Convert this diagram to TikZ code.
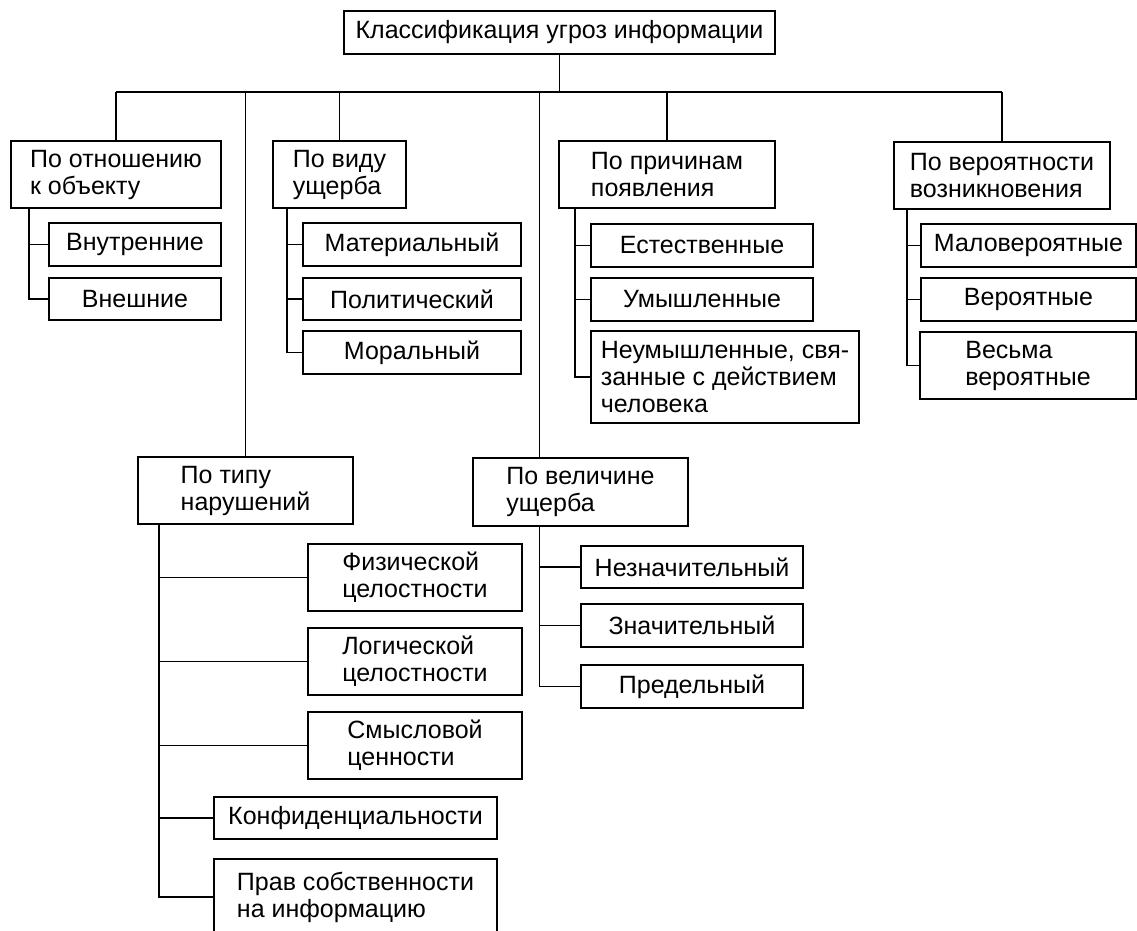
\documentclass[tikz,border=0pt]{standalone}
\usepackage{fontspec}
\setmainfont{Liberation Sans}
\begin{document}
\begin{tikzpicture}[x=1pt, y=-1pt,
    box/.style={draw, line width=2pt, anchor=north west, inner sep=0pt,
      align=left, font=\fontsize{25}{27}\selectfont},
    link/.style={line width=1.6pt}]
    \useasboundingbox[fill=white] (0,0) rectangle (1137,930);
    % top level
    \node[box, minimum width=431, minimum height=43] (root) at (343,10) {Классификация угроз информации};
    \node[box, minimum width=210, minimum height=67] (relobj) at (10,140) {По отношению\\к объекту};
    \node[box, minimum width=133, minimum height=67] (kind) at (272,140) {По виду\\ущерба};
    \node[box, minimum width=216, minimum height=67] (cause) at (558,140) {По причинам\\появления};
    \node[box, minimum width=216, minimum height=67] (prob) at (893,141) {По вероятности\\возникновения};
    \node[box, minimum width=215, minimum height=67] (viol) at (137,456) {По типу\\нарушений};
    \node[box, minimum width=215, minimum height=68] (size) at (472,457) {По величине\\ущерба};
    % leaves
    \node[box, minimum width=172, minimum height=43] (inner) at (48,222) {Внутренние};
    \node[box, minimum width=172, minimum height=42] (outer) at (48,277) {Внешние};
    \node[box, minimum width=218, minimum height=43] (mat) at (302,222) {Материальный};
    \node[box, minimum width=218, minimum height=42] (pol) at (302,277) {Политический};
    \node[box, minimum width=218, minimum height=43] (mor) at (302,330) {Моральный};
    \node[box, minimum width=222, minimum height=43] (nat) at (590,223) {Естественные};
    \node[box, minimum width=222, minimum height=43] (intent) at (590,277) {Умышленные};
    \node[box, minimum width=268, minimum height=92] (unint) at (590,330) {Неумышленные, свя-\\занные с действием\\человека};
    \node[box, minimum width=215, minimum height=43] (low) at (920,223) {Маловероятные};
    \node[box, minimum width=215, minimum height=43] (mid) at (920,277) {Вероятные};
    \node[box, minimum width=216, minimum height=67] (high) at (919,331) {Весьма\\вероятные};
    \node[box, minimum width=214, minimum height=67] (phys) at (307,543) {Физической\\целостности};
    \node[box, minimum width=214, minimum height=67] (logic) at (307,627) {Логической\\целостности};
    \node[box, minimum width=214, minimum height=67] (sense) at (307,711) {Смысловой\\ценности};
    \node[box, minimum width=283, minimum height=42] (conf) at (213,796) {Конфиденциальности};
    \node[box, minimum width=283, minimum height=76] (own) at (213,858) {Прав собственности\\на информацию};
    \node[box, minimum width=222, minimum height=42] (minor) at (580,545) {Незначительный};
    \node[box, minimum width=222, minimum height=43] (major) at (580,603) {Значительный};
    \node[box, minimum width=222, minimum height=43] (limit) at (580,664) {Предельный};
    % bus
    \draw[link] (root.south) -- ++(0,37) coordinate (bus);
    \draw[link] (relobj.north |- bus) -- (prob.north |- bus);
    \draw[link] (relobj.north) -- (relobj.north |- bus);
    \draw[link] (kind.north) -- (kind.north |- bus);
    \draw[link] (cause.north) -- (cause.north |- bus);
    \draw[link] (prob.north) -- (prob.north |- bus);
    \draw[link] (viol.north) -- (viol.north |- bus);
    \draw[link] ([xshift=-41pt]size.north) coordinate (sizetop) -- (sizetop |- bus);
    % branches
    \draw[link] ([xshift=19pt]relobj.south west) coordinate (s1) |- (outer.west);
    \draw[link] (s1 |- inner.west) -- (inner.west);
    \draw[link] ([xshift=15pt]kind.south west) coordinate (s2) |- (mor.west);
    \draw[link] (s2 |- mat.west) -- (mat.west);
    \draw[link] (s2 |- pol.west) -- (pol.west);
    \draw[link] ([xshift=17pt]cause.south west) coordinate (s3) |- (unint.west);
    \draw[link] (s3 |- nat.west) -- (nat.west);
    \draw[link] (s3 |- intent.west) -- (intent.west);
    \draw[link] ([xshift=14pt]prob.south west) coordinate (s4) |- (high.west);
    \draw[link] (s4 |- low.west) -- (low.west);
    \draw[link] (s4 |- mid.west) -- (mid.west);
    \draw[link] ([xshift=22pt]viol.south west) coordinate (s5) |- (own.west);
    \draw[link] (s5 |- phys.west) -- (phys.west);
    \draw[link] (s5 |- logic.west) -- (logic.west);
    \draw[link] (s5 |- sense.west) -- (sense.west);
    \draw[link] (s5 |- conf.west) -- (conf.west);
    \draw[link] (sizetop |- size.south) coordinate (s6) |- (limit.west);
    \draw[link] (s6 |- minor.west) -- (minor.west);
    \draw[link] (s6 |- major.west) -- (major.west);
  \end{tikzpicture}
\end{document}
